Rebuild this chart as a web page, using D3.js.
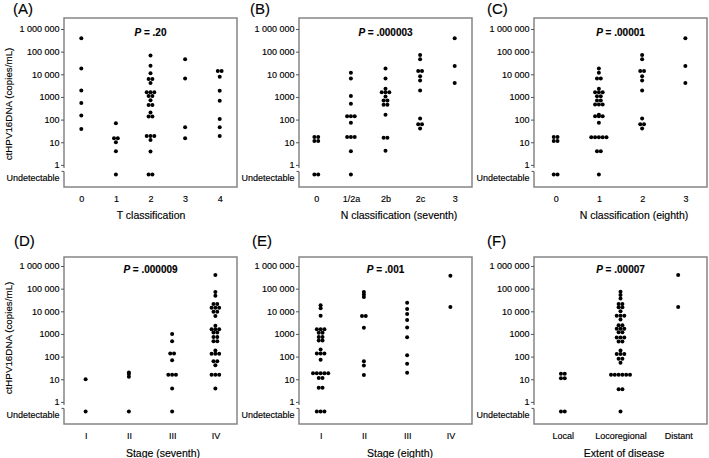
<!DOCTYPE html>
<html><head><meta charset="utf-8">
<script src="https://cdn.jsdelivr.net/npm/d3@7"></script>
<style>
body{margin:0;background:#fff}
svg{display:block}
text{font-family:"Liberation Sans",Arial,Helvetica,sans-serif;fill:#000;stroke:#000;stroke-width:0.15px}
</style>
</head><body>
<svg id="chart" width="709" height="458"></svg>
<script>
// ---------- tick labels ----------
const tickValues = [1, 10, 100, 1000, 10000, 100000, 1000000];
const tickLabels = ["1", "10", "100", "1000", "10 000", "100 000", "1 000 000"];
const undetectableLabel = "Undetectable";
const yTitle = "ctHPV16DNA (copies/mL)";
// 0 = undetectable

// (A) T classification
const catsA = ["0", "1", "2", "3", "4"];
const valsA = [
  [390000, 18000, 1950, 540, 150, 38],
  [69, 15, 15, 10, 4, 0],
  [68000, 24000, 11000, 6200, 6200, 4100, 1600, 1600, 1600, 1100, 1100, 720, 440, 440, 205, 138, 138, 19, 19, 19, 12.6, 3.9, 0, 0],
  [46000, 6600, 46, 15],
  [14000, 14000, 7800, 1870, 680, 107, 46, 19]
];
// (B) N classification (seventh)
const catsB = ["0", "1/2a", "2b", "2c", "3"];
const valsB = [
  [17, 17, 11.5, 11.5, 0, 0],
  [11700, 6600, 1100, 500, 140, 140, 140, 72, 17, 17, 17, 4, 0],
  [18000, 6600, 2300, 1600, 1600, 1600, 1050, 690, 690, 450, 450, 163, 16, 16, 4.2],
  [71000, 46000, 14000, 14000, 8300, 5300, 1950, 112, 63, 63, 40],
  [390000, 23000, 4100]
];
// (C) N classification (eighth)
const catsC = ["0", "1", "2", "3"];
const valsC = [
  [17, 17, 11.5, 11.5, 0, 0],
  [18000, 11700, 6600, 6600, 2300, 1600, 1600, 1600, 1080, 1080, 690, 690, 470, 470, 470, 163, 140, 140, 140, 72, 16.5, 16.5, 16.5, 16.5, 16.5, 4, 4, 0],
  [71000, 46000, 14000, 14000, 8300, 5300, 1950, 112, 63, 63, 40],
  [390000, 23000, 4100]
];
// (D) Stage (seventh)
const catsD = ["I", "II", "III", "IV"];
const valsD = [
  [10, 0],
  [20, 17, 13, 0],
  [1000, 480, 138, 138, 69, 16, 16, 16, 3.9, 0],
  [400000, 72000, 49000, 21000, 21000, 14500, 14500, 14500, 9500, 9500, 6200, 2300, 1620, 1620, 1620, 1150, 1150, 740, 740, 480, 480, 186, 132, 132, 132, 63, 63, 42, 16, 16, 16, 3.9]
];
// (E) Stage (eighth)
const catsE = ["I", "II", "III", "IV"];
const valsE = [
  [18600, 13500, 6300, 1620, 1620, 1620, 1120, 1120, 740, 740, 510, 510, 205, 138, 138, 138, 72, 18.6, 18.6, 18.6, 18.6, 18.6, 11.5, 11.5, 4.2, 4.2, 0, 0, 0],
  [71000, 55000, 43000, 6200, 6200, 1870, 63, 40, 15.5],
  [24000, 12600, 7600, 4100, 1950, 720, 115, 48, 19.5],
  [370000, 15400]
];
// (F) Extent of disease
const catsF = ["Local", "Locoregional", "Distant"];
const valsF = [
  [17.5, 17.5, 11, 11, 0, 0],
  [73000, 52000, 37000, 21000, 21000, 15000, 15000, 10000, 6300, 6300, 6300, 4400, 2450, 2450, 1700, 1700, 1700, 1200, 1200, 700, 700, 700, 470, 470, 186, 130, 130, 130, 80, 80, 53, 16, 16, 16, 16, 16, 16, 3.6, 3.6, 0],
  [400000, 15400]
];

const pValues = [".20", ".000003", ".00001", ".000009", ".001", ".00007"];
const xTitles = ["T classification", "N classification (seventh)", "N classification (eighth)",
                 "Stage (seventh)", "Stage (eighth)", "Extent of disease"];
const panelLabels = ["(A)", "(B)", "(C)", "(D)", "(E)", "(F)"];

// ---------- layout ----------
const colX = [64, 299, 534];
const boxW = 173;
const rowTop = [18, 257];
const rowBot = [187, 424];
const rowY1e6 = [29, 266];
const decade = 22.65;
const titleX = [151, 399, 634, 163, 400, 624];
const labelX = [13, 250, 487, 14, 252, 487];
const labelY = [14, 246];
const xTickBase = [202, 439];
const xTitleBase = [219, 457];
const yTitleY = [104, 338];

const panels = [
  {cats: catsA, vals: valsA}, {cats: catsB, vals: valsB}, {cats: catsC, vals: valsC},
  {cats: catsD, vals: valsD}, {cats: catsE, vals: valsE}, {cats: catsF, vals: valsF}
];

const svg = d3.select("#chart");
const boxColor = "#858585";

panels.forEach((p, k) => {
  const row = Math.floor(k / 3), col = k % 3;
  const bx = colX[col], top = rowTop[row], bot = rowBot[row];
  const g = svg.append("g");
  const y = d3.scaleLog().domain([1, 1e6]).range([rowY1e6[row] + 6 * decade, rowY1e6[row]]);
  const yU = y(1) + 9.5;
  const x = d3.scalePoint().domain(p.cats).range([bx, bx + boxW]).padding(0.5);

  // box with axis break on the left side
  const gapTop = y(1) + 3, gapBot = y(1) + 6.5;
  g.append("path")
    .attr("d", `M${bx},${gapTop}V${top}H${bx + boxW}V${bot}H${bx}V${gapBot}`)
    .attr("fill", "none").attr("stroke", boxColor).attr("stroke-width", 1.5);
  g.append("line").attr("x1", bx - 2.5).attr("x2", bx).attr("y1", gapBot).attr("y2", gapBot)
    .attr("stroke", "#555").attr("stroke-width", 1);

  // y axis
  const ya = g.append("g").attr("transform", `translate(${bx},0)`)
    .call(d3.axisLeft(y).tickValues(tickValues).tickFormat((d, i) => tickLabels[i]).tickSize(3).tickPadding(1.5));
  ya.select(".domain").remove();
  ya.selectAll(".tick line").attr("stroke", "#555");
  ya.selectAll("text").attr("font-size", 9).attr("fill", "#000");
  g.append("text").attr("x", bx - 4.5).attr("y", yU + 7).attr("text-anchor", "end")
    .attr("font-size", 9).text(undetectableLabel);

  // x axis
  const xa = g.append("g").attr("transform", `translate(0,${bot})`)
    .call(d3.axisBottom(x).tickSize(0).tickPadding(0));
  xa.select(".domain").remove();
  xa.selectAll("text").attr("font-size", 9).attr("fill", "#000").attr("dy", null)
    .attr("y", xTickBase[row] - bot);

  // x title
  g.append("text").attr("x", titleX[k]).attr("y", xTitleBase[row]).attr("text-anchor", "middle")
    .attr("font-size", 10.5).text(xTitles[k]);

  // panel label
  g.append("text").attr("x", labelX[k]).attr("y", labelY[row]).attr("font-size", 15).text(panelLabels[k]);

  // P value
  const pt = g.append("text").attr("x", bx + boxW / 2).attr("y", rowY1e6[row] + 6.5)
    .attr("text-anchor", "middle").attr("font-size", 10).attr("font-weight", "bold");
  pt.append("tspan").attr("font-style", "italic").text("P");
  pt.append("tspan").text(" = " + pValues[k]);

  // y title for first column
  if (col === 0) {
    g.append("text").attr("transform", `translate(11.5,${yTitleY[row]}) rotate(-90)`)
      .attr("text-anchor", "middle").attr("font-size", 9.8).text(yTitle);
  }

  // dots: identical values spread horizontally
  const spacing = 3.8;
  p.cats.forEach((c, i) => {
    const groups = d3.groups(p.vals[i], v => v);
    groups.forEach(([v, arr]) => {
      const n = arr.length;
      arr.forEach((_, j) => {
        g.append("circle")
          .attr("cx", x(c) + (j - (n - 1) / 2) * spacing)
          .attr("cy", v === 0 ? yU : y(v))
          .attr("r", 2.0).attr("fill", "#000");
      });
    });
  });
});
</script>
</body></html>
